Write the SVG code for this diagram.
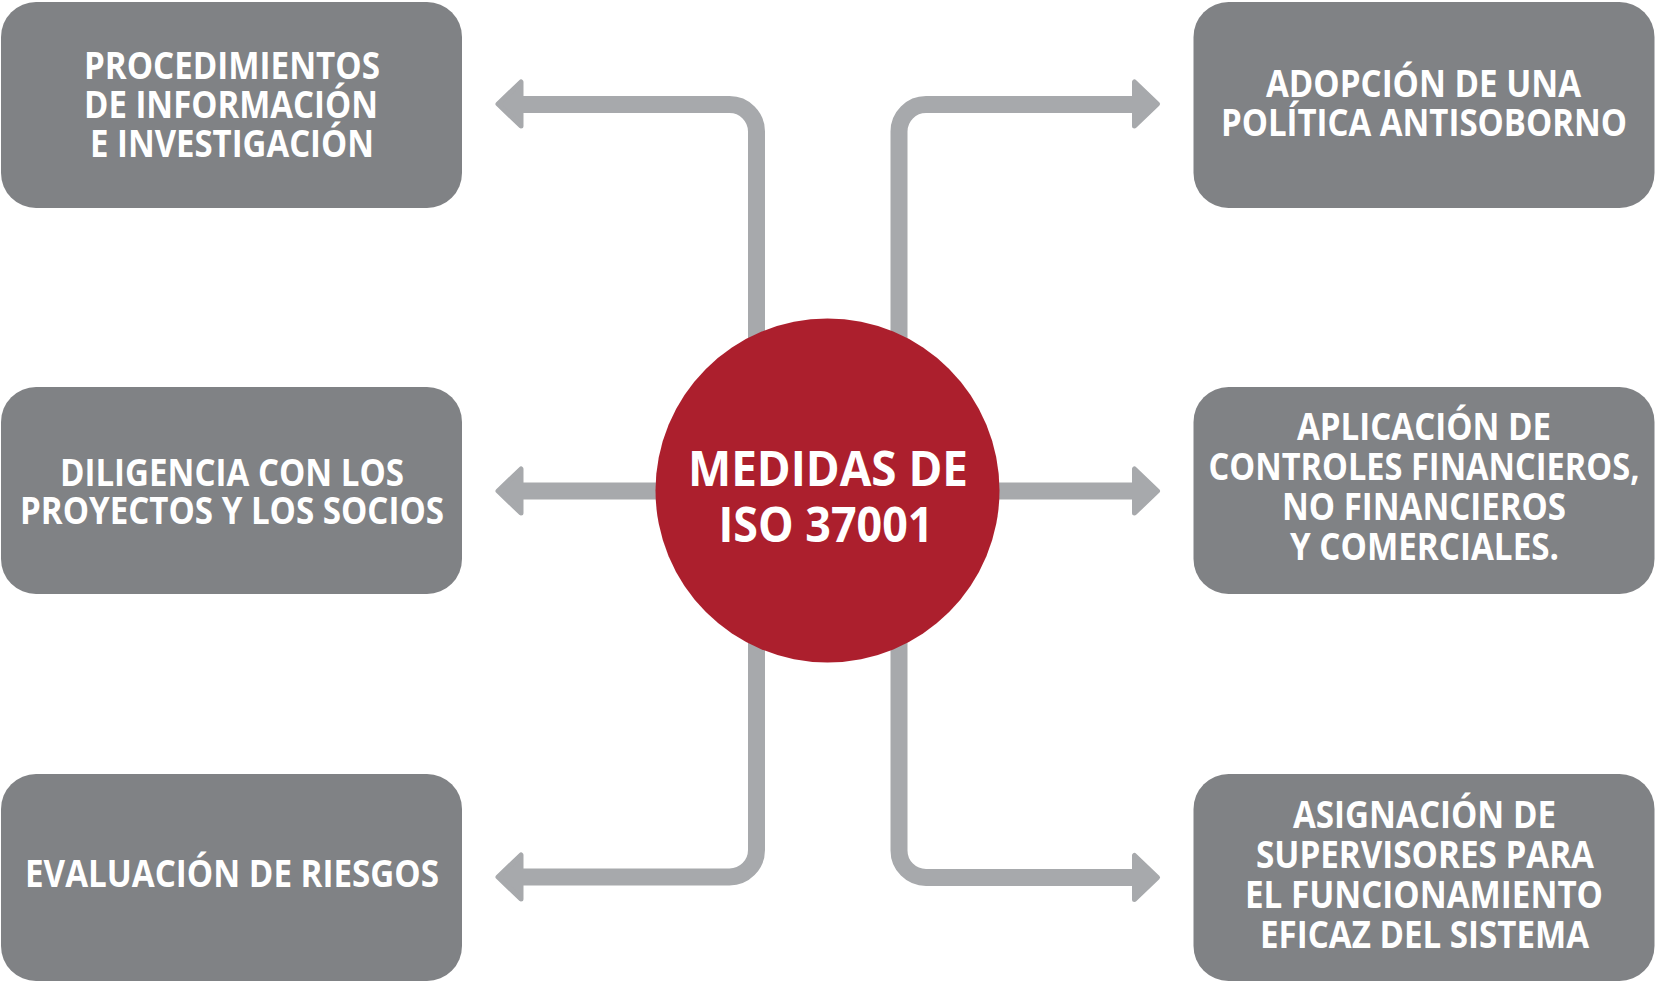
<svg xmlns="http://www.w3.org/2000/svg" width="1655" height="982" viewBox="0 0 1655 982">
<style>
.box{fill:#808285}
.lbl{font-family:"Open Sans","Liberation Sans",sans-serif;font-weight:700;font-size:37px;fill:#fff;text-anchor:middle}
.big{font-size:48px}
.ln{fill:none;stroke:#A7A9AC;stroke-width:17}
.ah{fill:#A7A9AC;stroke:#A7A9AC;stroke-width:5;stroke-linejoin:round}
</style>
<rect width="1655" height="982" fill="#fff"/>
<g id="connectors">
<path class="ln" d="M756.5 420 V131.5 A27 27 0 0 0 729.5 104.5 H520"/>
<path class="ln" d="M899 420 V131.5 A27 27 0 0 1 926 104.5 H1136"/>
<path class="ln" d="M827 491 H520"/>
<path class="ln" d="M827 491 H1136"/>
<path class="ln" d="M756.5 560 V850 A27 27 0 0 1 729.5 877 H520"/>
<path class="ln" d="M899 560 V850.5 A27 27 0 0 0 926 877.5 H1136"/>
<polygon class="ah" points="521,82 521,126 498,104"/>
<polygon class="ah" points="1134.5,82 1134.5,126 1157.5,104"/>
<polygon class="ah" points="521,469 521,513 498,491"/>
<polygon class="ah" points="1134.5,469 1134.5,513 1157.5,491"/>
<polygon class="ah" points="521,855 521,899 498,877"/>
<polygon class="ah" points="1134.5,855.5 1134.5,899.5 1157.5,877.5"/>
</g>
<g id="center">
<circle cx="827.5" cy="490.5" r="172" fill="#AC1F2D"/>
<text class="lbl big" x="828" y="486" textLength="280" lengthAdjust="spacingAndGlyphs">MEDIDAS DE</text>
<text class="lbl big" x="826" y="542" textLength="215" lengthAdjust="spacingAndGlyphs">ISO 37001</text>
</g>
<g id="n-procedimientos">
<rect class="box" x="1" y="2" width="461" height="206" rx="35"/>
<text class="lbl" x="232" y="79" textLength="296" lengthAdjust="spacingAndGlyphs">PROCEDIMIENTOS</text>
<text class="lbl" x="231" y="118" textLength="294" lengthAdjust="spacingAndGlyphs">DE INFORMACIÓN</text>
<text class="lbl" x="232" y="157" textLength="284" lengthAdjust="spacingAndGlyphs">E INVESTIGACIÓN</text>
</g>
<g id="n-diligencia">
<rect class="box" x="1" y="387" width="461" height="207" rx="35"/>
<text class="lbl" x="232" y="486" textLength="344" lengthAdjust="spacingAndGlyphs">DILIGENCIA CON LOS</text>
<text class="lbl" x="232" y="524" textLength="424" lengthAdjust="spacingAndGlyphs">PROYECTOS Y LOS SOCIOS</text>
</g>
<g id="n-evaluacion">
<rect class="box" x="1" y="774" width="461" height="207" rx="35"/>
<text class="lbl" x="232" y="887" textLength="414" lengthAdjust="spacingAndGlyphs">EVALUACIÓN DE RIESGOS</text>
</g>
<g id="n-adopcion">
<rect class="box" x="1193.5" y="2" width="461" height="206" rx="35"/>
<text class="lbl" x="1423.5" y="97" textLength="315" lengthAdjust="spacingAndGlyphs">ADOPCIÓN DE UNA</text>
<text class="lbl" x="1424" y="136" textLength="406" lengthAdjust="spacingAndGlyphs">POLÍTICA ANTISOBORNO</text>
</g>
<g id="n-aplicacion">
<rect class="box" x="1193.5" y="387" width="461" height="207" rx="35"/>
<text class="lbl" x="1424" y="440" textLength="254" lengthAdjust="spacingAndGlyphs">APLICACIÓN DE</text>
<text class="lbl" x="1424" y="480" textLength="431" lengthAdjust="spacingAndGlyphs">CONTROLES FINANCIEROS,</text>
<text class="lbl" x="1424" y="520" textLength="284" lengthAdjust="spacingAndGlyphs">NO FINANCIEROS</text>
<text class="lbl" x="1424.5" y="560" textLength="269" lengthAdjust="spacingAndGlyphs">Y COMERCIALES.</text>
</g>
<g id="n-asignacion">
<rect class="box" x="1193.5" y="774" width="461" height="207" rx="35"/>
<text class="lbl" x="1424.5" y="828" textLength="263" lengthAdjust="spacingAndGlyphs">ASIGNACIÓN DE</text>
<text class="lbl" x="1425" y="868" textLength="338" lengthAdjust="spacingAndGlyphs">SUPERVISORES PARA</text>
<text class="lbl" x="1424" y="908" textLength="358" lengthAdjust="spacingAndGlyphs">EL FUNCIONAMIENTO</text>
<text class="lbl" x="1424.5" y="948" textLength="329" lengthAdjust="spacingAndGlyphs">EFICAZ DEL SISTEMA</text>
</g>
</svg>
